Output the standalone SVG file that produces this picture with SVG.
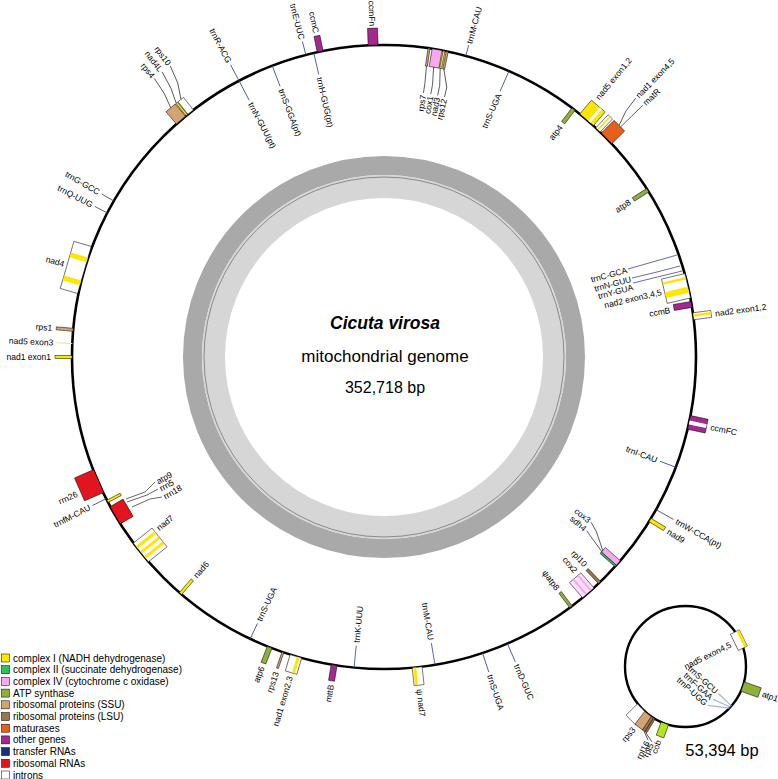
<svg xmlns="http://www.w3.org/2000/svg" width="778" height="779" viewBox="0 0 778 779">
<style>
text{font-family:"Liberation Sans",Arial,sans-serif;fill:#000}
.t{font-size:8.5px;dominant-baseline:central}
.g{stroke:#000;stroke-width:0.5}
.tl{stroke:#3d4a8c;stroke-width:0.8;fill:none}
.ln{stroke:#000;stroke-width:0.6;fill:none}
.Y{fill:#ffe600}.G2{fill:#2fbf55}.P{fill:#f7a8f0}.A{fill:#8db13a}.S{fill:#d4a373}.L{fill:#9c7546}.M{fill:#e5601c}.O{fill:#a3288f}.T{fill:#1b2e7a}.R{fill:#e3141e}.W{fill:#fff}
.lg{font-size:10px}
</style>
<rect width="778" height="779" fill="#fff"/>
<g id="gcring">
<circle cx="384" cy="357" r="191.5" fill="none" stroke="#a9a9a9" stroke-width="19"/>
<circle cx="384" cy="357" r="170.5" fill="none" stroke="#d6d6d6" stroke-width="23"/>
<circle cx="384" cy="357" r="180" fill="none" stroke="#555" stroke-width="0.6"/>
</g>
<g id="genome">
<circle cx="384" cy="357" r="312" fill="none" stroke="#000" stroke-width="2.6"/>
<text x="385" y="329" text-anchor="middle" font-size="17.5" font-weight="bold" font-style="italic">Cicuta virosa</text>
<text x="385" y="362" text-anchor="middle" font-size="17">mitochondrial genome</text>
<text x="385" y="393" text-anchor="middle" font-size="16">352,718 bp</text>
</g>
<g id="connectors">
<polyline class="ln" points="126,499 145,492 155,482"/>
<polyline class="ln" points="127,502 147,495 158,489"/>
<polyline class="ln" points="132,507 150,499 162,497"/>
<polyline class="tl" points="677,255 628,269"/>
<polyline class="tl" points="680,266 657,272 632,278"/>
<polyline class="tl" points="682,271 633,283"/>
</g>
<!-- outside features -->
<g id="ccmFn" transform="rotate(-2 384 357)"><rect class="g O" x="379" y="28" width="10" height="17"/><text class="t" text-anchor="end" transform="translate(384,26) rotate(90)">ccmFn</text></g>
<g id="ccmC" transform="rotate(-11.8 384 357)"><rect class="g O" x="381" y="29" width="6" height="16"/><text class="t" text-anchor="end" transform="translate(384,26) rotate(90)">ccmC</text></g>
<g id="trnE" transform="rotate(-14.5 384 357)"><line class="tl" x1="384" y1="45" x2="384" y2="31"/><text class="t" text-anchor="end" transform="translate(384,29) rotate(90)">trnE-UUC</text></g>
<g id="trnR" transform="rotate(-27.7 384 357)"><line class="tl" x1="384" y1="45" x2="384" y2="27"/><text class="t" text-anchor="end" transform="translate(384,24) rotate(90)">trnR-ACG</text></g>
<g id="rps4cl">
<g transform="rotate(-40.6 384 357)"><rect class="g S" x="378" y="29" width="12" height="16"/></g>
<g transform="rotate(-39.2 384 357)"><rect class="g Y" x="383" y="29" width="2" height="16"/></g>
<g transform="rotate(-38.2 384 357)"><rect class="g W" x="380" y="29" width="7" height="16"/></g>
<g transform="rotate(-36.3 384 357)"><polyline class="ln" points="373,29 380,14 384,-4"/><text class="t" text-anchor="end" transform="translate(384,-6) rotate(90)">rps10</text></g>
<g transform="rotate(-37.9 384 357)"><polyline class="ln" points="376,29 381,14 384,-4"/><text class="t" text-anchor="end" transform="translate(384,-6) rotate(90)">nad4L</text></g>
<g transform="rotate(-39.5 384 357)"><polyline class="ln" points="378,29 382,14 384,-4"/><text class="t" text-anchor="end" transform="translate(384,-6) rotate(90)">rps4</text></g>
</g>
<g id="trnG" transform="rotate(-60 384 357)"><line class="tl" x1="384" y1="45" x2="384" y2="31"/><text class="t" text-anchor="end" transform="translate(384,28) rotate(90)">trnG-GCC</text></g>
<g id="trnQ" transform="rotate(-62.5 384 357)"><line class="tl" x1="384" y1="45" x2="384" y2="31"/><text class="t" text-anchor="end" transform="translate(384,28) rotate(90)">trnQ-UUG</text></g>
<g id="nad4" transform="rotate(-73.8 384 357)"><rect class="g W" x="359.5" y="27" width="49" height="18"/><rect class="Y" x="368" y="27.3" width="5" height="17.5"/><rect class="Y" x="392" y="27.3" width="5" height="17.5"/><text class="t" text-anchor="end" transform="translate(384,24) rotate(90)">nad4</text></g>
<g id="rps1" transform="rotate(-85 384 357)"><rect class="g S" x="382.5" y="28" width="3" height="17"/><text class="t" text-anchor="end" transform="translate(384,24) rotate(90)">rps1</text></g>
<g id="nad5e3" transform="rotate(-87.5 384 357)"><line x1="384" y1="45" x2="384" y2="29" stroke="#eee58a" stroke-width="1"/><text class="t" text-anchor="end" transform="translate(384,26) rotate(90)">nad5 exon3</text></g>
<g id="nad1e1" transform="rotate(-90 384 357)"><rect class="g Y" x="382.5" y="28" width="3" height="17"/><text class="t" text-anchor="end" transform="translate(384,24) rotate(90)">nad1 exon1</text></g>
<g id="rrn26" transform="rotate(-113.5 384 357)"><rect class="g R" x="371.5" y="25" width="25" height="21"/><text class="t" text-anchor="end" transform="translate(381,21) rotate(90)">rrn26</text></g>
<g id="trnfM" transform="rotate(-117 384 357)"><line class="tl" x1="384" y1="45" x2="384" y2="30"/><text class="t" text-anchor="end" transform="translate(384,27) rotate(90)">trnfM-CAU</text></g>
<g id="atp6" transform="rotate(-158.5 384 357)"><rect class="g A" x="381.5" y="28" width="5" height="17"/><text class="t" text-anchor="end" transform="translate(384,24) rotate(90)">atp6</text></g>
<g id="rps13" transform="rotate(-161.1 384 357)"><rect class="g S" x="383" y="28" width="2" height="17"/><text class="t" text-anchor="end" transform="translate(384,24) rotate(90)">rps13</text></g>
<g id="nad1e23" transform="rotate(-163.6 384 357)"><rect class="g W" x="378" y="28" width="12" height="17"/><rect class="Y" x="380" y="28.3" width="3" height="16.5"/><text class="t" text-anchor="end" transform="translate(384,24) rotate(90)">nad1 exon2,3</text></g>
<g id="mttB" transform="rotate(-170.8 384 357)"><rect class="g O" x="381" y="29" width="6" height="16"/><text class="t" text-anchor="end" transform="translate(384,25) rotate(90)">mttB</text></g>
<g id="psinad7" transform="rotate(173.9 384 357)"><rect class="g W" x="379" y="27" width="10" height="18"/><rect class="Y" x="385" y="27.3" width="3" height="17.5"/><text class="t" transform="translate(384,23) rotate(-90)">ψ nad7</text></g>
<g id="trnS3" transform="rotate(161.6 384 357)"><line class="tl" x1="384" y1="45" x2="384" y2="25"/><text class="t" transform="translate(384,22) rotate(-90)">trnS-UGA</text></g>
<g id="trnD" transform="rotate(156.7 384 357)"><line class="tl" x1="384" y1="45" x2="384" y2="25"/><text class="t" transform="translate(384,22) rotate(-90)">trnD-GUC</text></g>
<g id="trnW" transform="rotate(119.3 384 357)"><line class="tl" x1="384" y1="45" x2="384" y2="25"/><text class="t" transform="translate(384,22) rotate(-90)">trnW-CCA(pt)</text></g>
<g id="nad9" transform="rotate(121.5 384 357)"><rect class="g Y" x="382" y="28" width="4" height="17"/><text class="t" transform="translate(384,24) rotate(-90)">nad9</text></g>
<g id="ccmFC" transform="rotate(102.1 384 357)"><rect class="g O" x="377" y="27" width="14" height="18"/><rect class="W" x="382" y="27.3" width="4" height="17.5"/><text class="t" transform="translate(384,23) rotate(-90)">ccmFC</text></g>
<g id="nad2e12" transform="rotate(82.5 384 357)"><rect class="g W" x="380.5" y="27" width="7" height="18"/><rect class="Y" x="382" y="27.3" width="2.5" height="17.5"/><text class="t" transform="translate(384,23) rotate(-90)">nad2 exon1,2</text></g>
<g id="trnM1" transform="rotate(15.2 384 357)"><line class="tl" x1="384" y1="45" x2="384" y2="34"/><text class="t" transform="translate(384,32) rotate(-90)">trnM-CAU</text></g>
<g id="nad5cl">
<g transform="rotate(40.5 384 357)"><rect class="g Y" x="375" y="27" width="18" height="18"/><rect class="W" x="386" y="27.3" width="3" height="17.5"/></g>
<g transform="rotate(43.3 384 357)"><rect class="g W" x="381" y="27" width="6" height="18"/><rect class="Y" x="383" y="27.3" width="1.5" height="17.5"/></g>
<g transform="rotate(45.5 384 357)"><rect class="g M" x="376.5" y="27" width="15" height="18"/></g>
<g transform="rotate(39.5 384 357)"><text class="t" transform="translate(384,22) rotate(-90)">nad5 exon1,2</text></g>
<g transform="rotate(44.2 384 357)"><polyline class="ln" points="391,27 386,12 384,-4"/><text class="t" transform="translate(384,-6) rotate(-90)">nad1 exon4,5</text></g>
<g transform="rotate(45.8 384 357)"><polyline class="ln" points="384,27 384,12 384,-4"/><text class="t" transform="translate(384,-6) rotate(-90)">matR</text></g>
</g>
<!-- inside features -->
<g id="trnH" transform="rotate(-13 384 357)"><line class="tl" x1="384" y1="45" x2="384" y2="67"/><text class="t" transform="translate(384,70) rotate(90)">trnH-GUG(pt)</text></g>
<g id="trnSGGA" transform="rotate(-21 384 357)"><line class="tl" x1="384" y1="45" x2="384" y2="67"/><text class="t" transform="translate(384,70) rotate(90)">trnS-GGA(pt)</text></g>
<g id="trnNpt" transform="rotate(-27.7 384 357)"><line class="tl" x1="384" y1="45" x2="384" y2="67"/><text class="t" transform="translate(384,70) rotate(90)">trnN-GUU(pt)</text></g>
<g id="rps7cl">
<g transform="rotate(8.3 384 357)"><rect class="g S" x="383" y="45" width="2" height="18"/></g>
<g transform="rotate(9.8 384 357)"><rect class="g P" x="379" y="45" width="10" height="18"/></g>
<g transform="rotate(11.1 384 357)"><rect class="g Y" x="383" y="45" width="2" height="18"/></g>
<g transform="rotate(11.7 384 357)"><rect class="g S" x="383" y="45" width="2" height="18"/></g>
<g transform="rotate(8.5 384 357)"><polyline class="ln" points="383,63 384,80 384,90"/><text class="t" text-anchor="end" transform="translate(384,92) rotate(-90)">rps7</text></g>
<g transform="rotate(10.1 384 357)"><polyline class="ln" points="382,63 384,80 384,90"/><text class="t" text-anchor="end" transform="translate(384,92) rotate(-90)">cox1</text></g>
<g transform="rotate(11.6 384 357)"><polyline class="ln" points="381,63 384,80 384,90"/><text class="t" text-anchor="end" transform="translate(384,92) rotate(-90)">nad3</text></g>
<g transform="rotate(13.1 384 357)"><polyline class="ln" points="377,63 384,80 384,90"/><text class="t" text-anchor="end" transform="translate(384,92) rotate(-90)">rps12</text></g>
</g>
<g id="trnS1" transform="rotate(23.6 384 357)"><line class="tl" x1="384" y1="45" x2="384" y2="67"/><text class="t" text-anchor="end" transform="translate(384,70) rotate(-90)">trnS-UGA</text></g>
<g id="atp4" transform="rotate(37.4 384 357)"><rect class="g A" x="382" y="45" width="4" height="17"/><text class="t" text-anchor="end" transform="translate(384,66) rotate(-90)">atp4</text></g>
<g id="atp8" transform="rotate(57.7 384 357)"><rect class="g A" x="382" y="45" width="4" height="17"/><text class="t" text-anchor="end" transform="translate(384,66) rotate(-90)">atp8</text></g>
<g id="trnCNY">
<text class="t" text-anchor="end" transform="translate(627,270) rotate(-15)">trnC-GCA</text>
<text class="t" text-anchor="end" transform="translate(631,279) rotate(-15)">trnN-GUU</text>
<text class="t" text-anchor="end" transform="translate(633,287) rotate(-15)">trnY-GUA</text>
</g>
<g id="nad2e345" transform="rotate(76.8 384 357)"><rect class="g W" x="371.5" y="45" width="25" height="24"/><rect class="Y" x="375" y="45.3" width="2.5" height="23.5"/><rect class="Y" x="385" y="45.3" width="6" height="23.5"/><text class="t" text-anchor="end" transform="translate(384,72) rotate(-90)">nad2 exon3,4,5</text></g>
<g id="ccmB" transform="rotate(80.3 384 357)"><rect class="g O" x="381" y="45" width="6" height="18"/><text class="t" text-anchor="end" transform="translate(386,67) rotate(-90)">ccmB</text></g>
<g id="trnI" transform="rotate(110.7 384 357)"><line class="tl" x1="384" y1="45" x2="384" y2="62"/><text class="t" text-anchor="end" transform="translate(384,65) rotate(-90)">trnI-CAU</text></g>
<g id="cox3cl">
<g transform="rotate(131.5 384 357)"><rect class="g P" x="380" y="45" width="6" height="20"/><rect class="g G2" x="386" y="45" width="2" height="20"/></g>
<g transform="rotate(128.6 384 357)"><polyline class="ln" points="399,65 388,82 384,92"/><text class="t" text-anchor="end" transform="translate(384,94) rotate(-90)">cox3</text></g>
<g transform="rotate(130.6 384 357)"><polyline class="ln" points="390,65 386,82 384,90"/><text class="t" text-anchor="end" transform="translate(384,92) rotate(-90)">sdh4</text></g>
</g>
<g id="rpl10" transform="rotate(136.3 384 357)"><rect class="g L" x="382.5" y="45" width="3" height="18"/><text class="t" text-anchor="end" transform="translate(382,67) rotate(-90)">rpl10</text></g>
<g id="cox2" transform="rotate(139.2 384 357)"><rect class="g" x="376" y="45" width="15" height="20" style="fill:#fde0fa"/><rect class="P" x="379" y="45.3" width="2" height="19.5"/><rect class="P" x="385" y="45.3" width="2" height="19.5"/><text class="t" text-anchor="end" transform="translate(379,69) rotate(-90)">cox2</text></g>
<g id="psiatp8" transform="rotate(143.2 384 357)"><rect class="g A" x="382.5" y="45" width="3" height="18"/><text class="t" text-anchor="end" transform="translate(384,67) rotate(-90)">ψatp8</text></g>
<g id="nad6" transform="rotate(-139.3 384 357)"><rect class="g Y" x="382.5" y="45" width="3" height="18"/><text class="t" transform="translate(384,67) rotate(90)">nad6</text></g>
<g id="nad7" transform="rotate(-128.8 384 357)"><rect class="g W" x="372" y="45" width="24" height="24"/><rect class="Y" x="376" y="45.3" width="3" height="23.5"/><rect class="Y" x="382.5" y="45.3" width="3" height="23.5"/><rect class="Y" x="389" y="45.3" width="3" height="23.5"/><text class="t" transform="translate(392,73) rotate(90)">nad7</text></g>
<g id="rrn18cl">
<g transform="rotate(-120.5 384 357)"><rect class="g R" x="374" y="45" width="20" height="15"/></g>
<g transform="rotate(-117.6 384 357)"><rect class="g Y" x="383" y="45" width="2.5" height="15"/></g>
<text class="t" transform="translate(157,482) rotate(-30)">atp9</text>
<text class="t" transform="translate(160,489) rotate(-30)">rrn5</text>
<text class="t" transform="translate(164,497) rotate(-30)">rrn18</text>
</g>
<g id="trnS2" transform="rotate(-154.6 384 357)"><line class="tl" x1="384" y1="45" x2="384" y2="62"/><text class="t" transform="translate(384,65) rotate(90)">trnS-UGA</text></g>
<g id="trnK" transform="rotate(-174.5 384 357)"><line class="tl" x1="384" y1="45" x2="384" y2="67"/><text class="t" transform="translate(384,70) rotate(90)">trnK-UUU</text></g>
<g id="trnM2" transform="rotate(170.6 384 357)"><line class="tl" x1="384" y1="45" x2="384" y2="67"/><text class="t" text-anchor="end" transform="translate(384,70) rotate(-90)">trnM-CAU</text></g>
<!-- small circle -->
<g id="small">
<circle cx="685.5" cy="666.5" r="60.5" fill="none" stroke="#000" stroke-width="2.4"/>
<text x="722" y="756" text-anchor="middle" font-size="16.5">53,394 bp</text>
<g transform="rotate(63.7 685.5 666.5)"><rect class="g W" x="676.5" y="602" width="18" height="10" stroke="#c8b400"/><rect class="Y" x="676.8" y="602.3" width="17.4" height="3"/><text class="t" text-anchor="end" transform="translate(685.5,616) rotate(-90)">nad5 exon4,5</text></g>
<g transform="rotate(109.4 685.5 666.5)"><rect class="g A" x="680.5" y="588" width="10" height="18"/><text class="t" font-size="8" transform="translate(685.5,585) rotate(-90)">atp1</text></g>
<g transform="rotate(132 685.5 666.5)">
<line x1="684" y1="606" x2="683.5" y2="624" stroke="#a9b5d8" stroke-width="1.2"/>
<line x1="685.5" y1="606" x2="691.5" y2="624" stroke="#a9b5d8" stroke-width="1.2"/>
<line x1="687" y1="606" x2="699.5" y2="624" stroke="#a9b5d8" stroke-width="1.2"/>
<text class="t" text-anchor="end" transform="translate(683.5,626) rotate(-90)">trnS-GCU</text>
<text class="t" text-anchor="end" transform="translate(691.5,626) rotate(-90)">trnF-GAA</text>
<text class="t" text-anchor="end" transform="translate(699.5,626) rotate(-90)">trnP-UGG</text>
</g>
<g transform="rotate(-160 685.5 666.5)"><rect class="g" x="681.5" y="592" width="8" height="14" fill="#b5e61d"/><text class="t" text-anchor="end" transform="translate(685.5,588) rotate(90)">cob</text></g>
<g transform="rotate(-134.5 685.5 666.5)"><rect class="g W" x="678.5" y="590" width="14" height="16"/></g>
<g transform="rotate(-142.5 685.5 666.5)"><rect class="g S" x="680.5" y="590" width="10" height="16"/></g>
<g transform="rotate(-147 685.5 666.5)"><rect class="g L" x="684" y="590" width="3" height="16"/></g>
<g transform="rotate(-149 685.5 666.5)"><rect class="g L" x="684.5" y="590" width="2" height="16"/></g>
<g transform="rotate(-140 685.5 666.5)"><text class="t" text-anchor="end" transform="translate(685.5,586) rotate(90)">rps3</text></g>
<g transform="rotate(-153 685.5 666.5)"><polyline class="ln" points="693,590 685.5,584"/><text class="t" text-anchor="end" transform="translate(685.5,582) rotate(90)">rpl16</text></g>
<g transform="rotate(-156 685.5 666.5)"><polyline class="ln" points="695,590 685.5,584"/><text class="t" text-anchor="end" transform="translate(685.5,582) rotate(90)">rpl5</text></g>
</g>
<g id="legend">
<rect class="g Y" x="1.5" y="654" width="8" height="8"/><text class="lg" x="13" y="661.5">complex I (NADH dehydrogenase)</text>
<rect class="g G2" x="1.5" y="665.7" width="8" height="8"/><text class="lg" x="13" y="673.2">complex II (succinate dehydrogenase)</text>
<rect class="g P" x="1.5" y="677.4" width="8" height="8"/><text class="lg" x="13" y="684.9">complex IV (cytochrome c oxidase)</text>
<rect class="g A" x="1.5" y="689.1" width="8" height="8"/><text class="lg" x="13" y="696.6">ATP synthase</text>
<rect class="g S" x="1.5" y="700.8" width="8" height="8"/><text class="lg" x="13" y="708.3">ribosomal proteins (SSU)</text>
<rect class="g L" x="1.5" y="712.5" width="8" height="8"/><text class="lg" x="13" y="720">ribosomal proteins (LSU)</text>
<rect class="g M" x="1.5" y="724.2" width="8" height="8"/><text class="lg" x="13" y="731.7">maturases</text>
<rect class="g O" x="1.5" y="735.9" width="8" height="8"/><text class="lg" x="13" y="743.4">other genes</text>
<rect class="g T" x="1.5" y="747.6" width="8" height="8"/><text class="lg" x="13" y="755.1">transfer RNAs</text>
<rect class="g R" x="1.5" y="759.3" width="8" height="8"/><text class="lg" x="13" y="766.8">ribosomal RNAs</text>
<rect class="g W" x="1.5" y="771" width="8" height="8"/><text class="lg" x="13" y="778.5">introns</text>
</g>
</svg>
